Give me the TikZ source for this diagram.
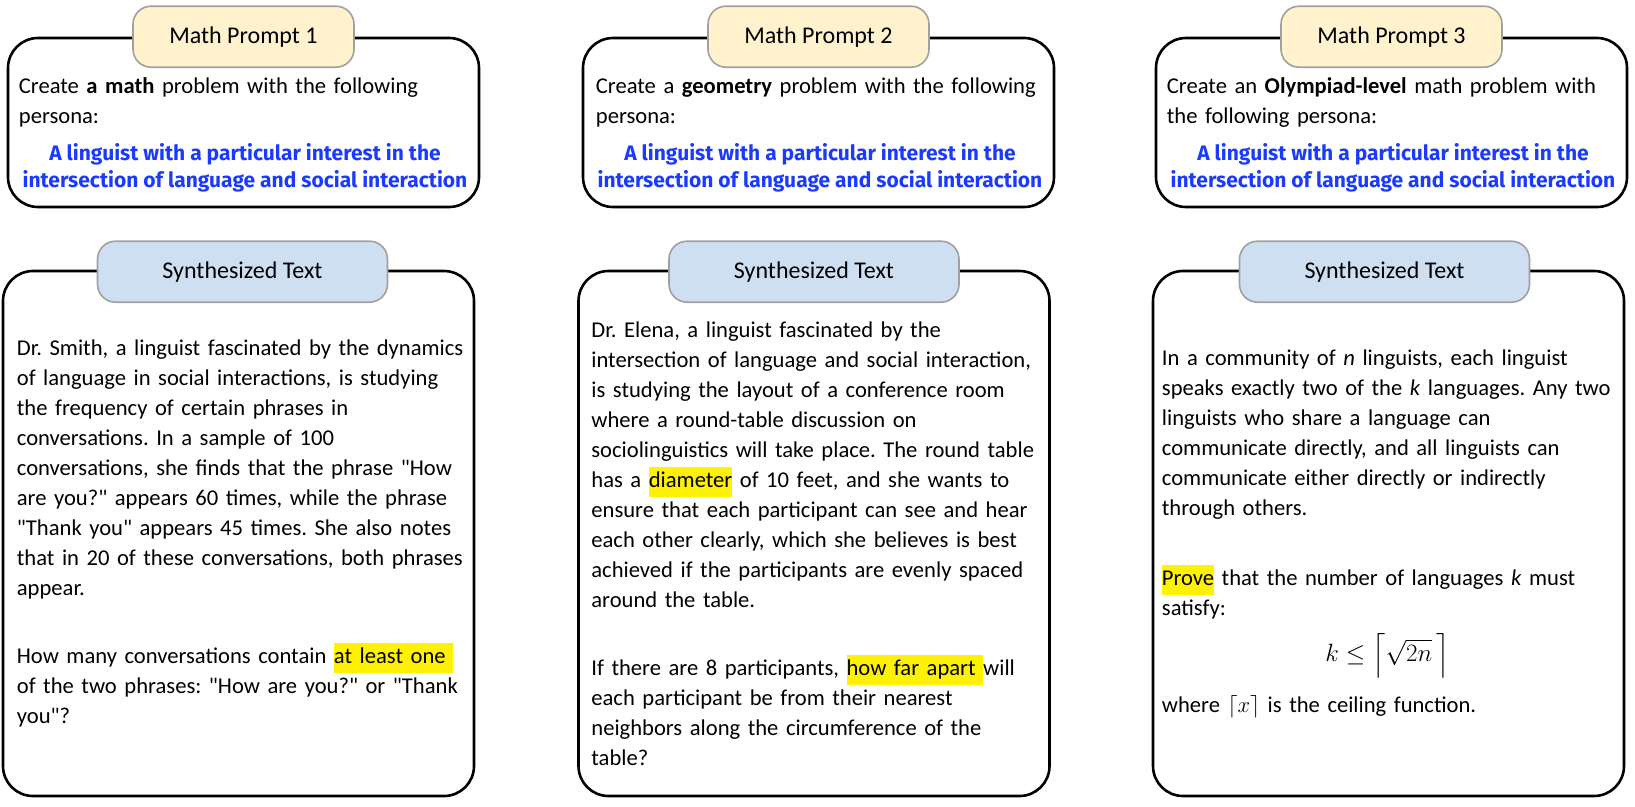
\RequirePackage{fix-cm}
\documentclass[tikz,border=0pt]{standalone}
\usepackage{fontspec}
\setmainfont{Carlito}[Ligatures=TeXOff]
\newfontfamily\personafamily{Fira Sans}
\usepackage{xcolor}
\usepackage{tikz}
\usepackage{amsmath}
\usetikzlibrary{positioning,calc}

\definecolor{promptyellow}{RGB}{255,242,204}
\definecolor{synthblue}{RGB}{207,223,242}
\definecolor{personablue}{RGB}{26,58,255}
\definecolor{tagline}{RGB}{160,160,160}
\newcommand{\marked}[1]{{\setlength{\fboxsep}{0pt}\colorbox{yellow}{\strut #1}}}
\frenchspacing

\begin{document}
\begin{tikzpicture}[
    x=1pt, y=-1pt,
    frame/.style={
        draw,
        line width=2.6pt,
        rounded corners=30pt,
        inner sep=0pt,
        minimum width=471pt
    },
    tagbox/.style={
        draw=tagline,
        line width=1.6pt,
        rounded corners=18pt,
        minimum height=61pt,
        font=\fontsize{24}{28}\selectfont
    },
    prompttag/.style={tagbox, fill=promptyellow, minimum width=221pt},
    synthtag/.style={tagbox, fill=synthblue, minimum width=290pt},
    body/.style={align=left, anchor=north west, inner sep=0pt, text width=470pt,
        font=\fontsize{22.6}{30}\selectfont},
    persona/.style={align=center, anchor=north, inner sep=0pt, text=personablue,
        font=\personafamily\bfseries\fontsize{21}{27}\selectfont}
]
\useasboundingbox (0,0) rectangle (1635,806);

\node[frame, minimum height=169pt] (prompt1) at (243.5,122.5) {};
\node[frame, minimum height=169pt] (prompt2) at (818.5,122.5) {};
\node[frame, minimum height=169pt] (prompt3) at (1391.5,122.5) {};

\node[frame, minimum height=525pt] (synth1) at (238.5,533.5) {};
\node[frame, minimum height=525pt] (synth2) at (814,533.5) {};
\node[frame, minimum height=525pt] (synth3) at (1388.5,533.5) {};

\node[prompttag] (ptag1) at (prompt1.north) {Math Prompt 1};
\node[prompttag] (ptag2) at (prompt2.north) {Math Prompt 2};
\node[prompttag] (ptag3) at (prompt3.north) {Math Prompt 3};

\node[synthtag] (stag1) at ([shift={(4,2)}]synth1.north) {Synthesized Text};
\node[synthtag] (stag2) at ([shift={(0,2)}]synth2.north) {Synthesized Text};
\node[synthtag] (stag3) at ([shift={(-4,2)}]synth3.north) {Synthesized Text};

\node[body] (ptext1) at ([shift={(12,36)}]prompt1.north west)
    {\strut Create \textbf{a math} problem with the following\\persona:};
\node[body] (ptext2) at ([shift={(14,36)}]prompt2.north west)
    {\strut Create a \textbf{geometry} problem with the following\\persona:};
\node[body] (ptext3) at ([shift={(12,36)}]prompt3.north west)
    {\strut Create an \textbf{Olympiad-level} math problem with\\the following persona:};

\node[persona] (pers1) at ([shift={(1.5,105)}]prompt1.north)
    {\strut A linguist with a particular interest in the\\intersection of language and social interaction};
\node[persona] (pers2) at ([shift={(1.5,105)}]prompt2.north)
    {\strut A linguist with a particular interest in the\\intersection of language and social interaction};
\node[persona] (pers3) at ([shift={(1.5,105)}]prompt3.north)
    {\strut A linguist with a particular interest in the\\intersection of language and social interaction};

\node[body] (stext1) at ([shift={(15,65)}]synth1.north west)
    {\strut Dr. Smith, a linguist fascinated by the dynamics\\
    of language in social interactions, is studying\\
    the frequency of certain phrases in\\
    conversations. In a sample of 100\\
    conversations, she finds that the phrase "How\\
    are you?" appears 60 times, while the phrase\\
    "Thank you" appears 45 times. She also notes\\
    that in 20 of these conversations, both phrases\\
    appear.\\[38pt]
    How many conversations contain \marked{at least one\ }\\
    of the two phrases: "How are you?" or "Thank\\
    you"?};

\node[body] (stext2) at ([shift={(14,47)}]synth2.north west)
    {\strut Dr. Elena, a linguist fascinated by the\\
    intersection of language and social interaction,\\
    is studying the layout of a conference room\\
    where a round-table discussion on\\
    sociolinguistics will take place. The round table\\
    has a \marked{diameter} of 10 feet, and she wants to\\
    ensure that each participant can see and hear\\
    each other clearly, which she believes is best\\
    achieved if the participants are evenly spaced\\
    around the table.\\[38pt]
    If there are 8 participants, \marked{how far apart\ }will\\
    each participant be from their nearest\\
    neighbors along the circumference of the\\
    table?};

\node[body] (stext3) at ([shift={(10,75)}]synth3.north west)
    {\strut In a community of \textit{n} linguists, each linguist\\
    speaks exactly two of the \textit{k} languages. Any two\\
    linguists who share a language can\\
    communicate directly, and all linguists can\\
    communicate either directly or indirectly\\
    through others.\\[40pt]
    \marked{Prove} that the number of languages \textit{k} must\\
    satisfy:\\[16pt]
    \makebox[451pt]{\smash{\fontsize{25}{30}\selectfont$k \leq \Bigl\lceil \sqrt{2n}\,\Bigr\rceil$}}\\[21pt]
    where $\lceil x \rceil$ is the ceiling function.};
\end{tikzpicture}
\end{document}
